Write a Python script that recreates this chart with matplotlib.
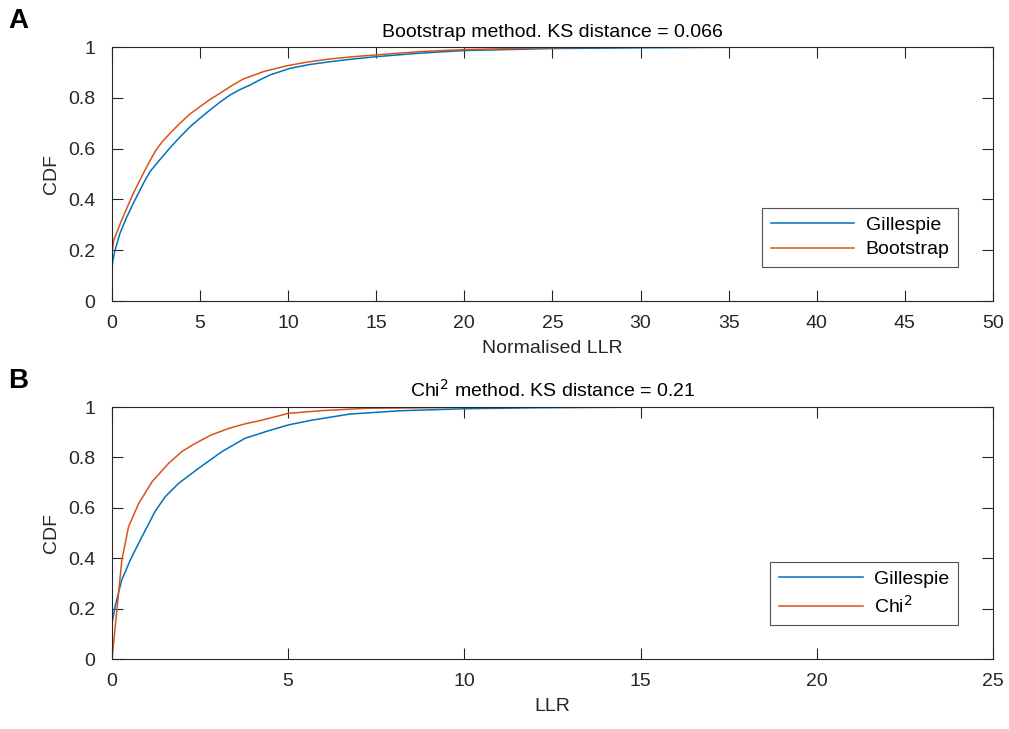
import matplotlib.pyplot as plt
import numpy as np

plt.rcParams['font.family'] = ['Liberation Sans', 'DejaVu Sans']

# panel A: normalised LLR CDFs
a_gill_x = [0, 0, 0.05, 0.17, 0.45, 0.8, 1.21, 1.78, 2.16, 2.7, 3.29, 3.85, 4.43, 5.0, 5.56, 6.13,
            6.70, 7.25, 7.83, 8.4, 8.97, 10.1, 11.2, 12.37, 13.7, 15.0, 17.5, 20.0, 25.0,
            30.0, 35.0, 40.0, 47.2]
a_gill_y = [0, 0.13, 0.16, 0.2, 0.266, 0.325, 0.385, 0.463, 0.51, 0.555, 0.603, 0.645, 0.686, 0.72,
            0.752, 0.783, 0.811, 0.832, 0.850, 0.871, 0.890, 0.916, 0.931, 0.942, 0.953, 0.962,
            0.976, 0.986, 0.994, 0.997, 0.999, 0.9995, 1.0]
a_boot_x = [0, 0, 0.1, 0.55, 0.9, 1.21, 1.78, 2.16, 2.5, 2.91, 3.4, 3.86, 4.4, 4.99, 5.55, 6.13,
            6.8, 7.45, 8.59, 9.91, 11.1, 12.37, 13.7, 15.0, 17.5, 20.0, 25.0, 29.7]
a_boot_y = [0, 0.19, 0.24, 0.319, 0.375, 0.424, 0.503, 0.553, 0.595, 0.632, 0.668, 0.70, 0.735,
            0.765, 0.793, 0.818, 0.848, 0.874, 0.903, 0.926, 0.941, 0.953, 0.962, 0.969, 0.982,
            0.99, 0.997, 1.0]

# panel B: LLR CDFs
b_gill_x = [0, 0, 0.085, 0.275, 0.52, 0.75, 0.95, 1.22, 1.51, 1.89, 2.46, 3.12, 3.78, 4.45, 5.01,
            5.68, 6.75, 8.17, 10.0, 12.0, 15.0, 20.0, 25.0]
b_gill_y = [0, 0.14, 0.207, 0.313, 0.393, 0.458, 0.512, 0.585, 0.644, 0.697, 0.757, 0.823, 0.876,
            0.906, 0.929, 0.948, 0.972, 0.985, 0.993, 0.997, 0.9995, 1.0, 1.0]
b_chi_x = [0, 0.28, 0.47, 0.76, 1.14, 1.61, 2.0, 2.37, 2.8, 3.31, 3.8, 4.26, 5.01, 6.0, 7.23,
           10.0, 15.0, 25.0]
b_chi_y = [0, 0.393, 0.525, 0.618, 0.704, 0.777, 0.825, 0.856, 0.888, 0.915, 0.934, 0.948, 0.975,
           0.986, 0.995, 0.9985, 1.0, 1.0]

blue = '#0072BD'
orange = '#D95319'
axcol = '#262626'

fig = plt.figure(figsize=(10.09, 7.29), dpi=100)
axA = fig.add_axes([0.111, 0.587, 0.873, 0.3485])
axB = fig.add_axes([0.111, 0.096, 0.873, 0.3457])


def style(ax, xmax, xstep):
    ax.set_xlim(0, xmax)
    ax.set_ylim(0, 1)
    ax.set_xticks(np.arange(0, xmax + 0.1, xstep))
    ax.set_yticks([0, 0.2, 0.4, 0.6, 0.8, 1])
    ax.set_yticklabels(['0', '0.2', '0.4', '0.6', '0.8', '1'])
    ax.tick_params(direction='in', top=True, right=True, length=8, width=0.8,
                   colors=axcol, labelsize=14)
    ax.tick_params(axis='x', pad=10)
    ax.tick_params(axis='y', pad=12)
    for s in ax.spines.values():
        s.set_color(axcol)
        s.set_linewidth(0.8)
    ax.set_ylabel('CDF', fontsize=14, color=axcol, labelpad=6)


axA.plot(a_gill_x, a_gill_y, color=blue, lw=1.1, label='Gillespie')
axA.plot(a_boot_x, a_boot_y, color=orange, lw=1.1, label='Bootstrap')
style(axA, 50, 5)
axA.set_xlabel('Normalised LLR', fontsize=14, color=axcol, labelpad=6)
axA.set_title('Bootstrap method. KS distance = 0.066', fontsize=14, color='black', pad=7)
legA = axA.legend(loc='lower right', bbox_to_anchor=(0.972, 0.095), fontsize=14, fancybox=False,
                  edgecolor=axcol, handlelength=4.3, handletextpad=0.6, borderpad=0.45,
                  labelspacing=0.35)
legA.get_frame().set_linewidth(0.8)

axB.plot(b_gill_x, b_gill_y, color=blue, lw=1.1, label='Gillespie')
axB.plot(b_chi_x, b_chi_y, color=orange, lw=1.1, label='Chi$^2$')
style(axB, 25, 5)
axB.set_xlabel('LLR', fontsize=14, color=axcol, labelpad=6)
axB.set_title('Chi$^2$ method. KS distance = 0.21', fontsize=14, color='black', pad=7)
legB = axB.legend(loc='lower right', bbox_to_anchor=(0.972, 0.095), fontsize=14, fancybox=False,
                  edgecolor=axcol, handlelength=4.3, handletextpad=0.6, borderpad=0.45,
                  labelspacing=0.35)
legB.get_frame().set_linewidth(0.8)

fig.text(0.008, 0.962, 'A', fontsize=20, fontweight='bold')
fig.text(0.008, 0.468, 'B', fontsize=20, fontweight='bold')

fig.savefig('out.png', dpi=100)
